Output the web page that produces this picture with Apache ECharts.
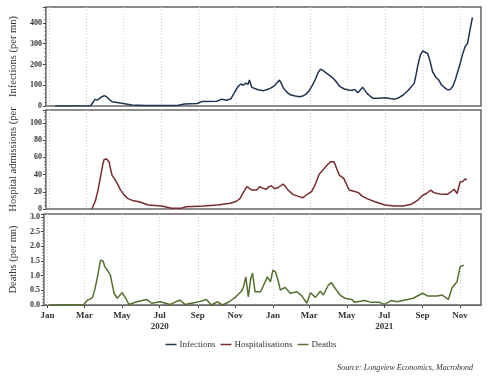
<!DOCTYPE html>
<html><head><meta charset="utf-8">
<script src="https://cdn.jsdelivr.net/npm/echarts@6/dist/echarts.min.js"></script>
<style>html,body{margin:0;padding:0;background:#fff}#c{width:502px;height:380px}</style>
</head><body><div id="c"></div><script>
// [date, value] per mn
const infections = [
 ['2020-01-10',0],['2020-03-08',1],['2020-03-12',18],['2020-03-15',32],['2020-03-19',29],['2020-03-25',42],['2020-03-30',50],['2020-04-03',45],['2020-04-08',30],['2020-04-12',21],
 ['2020-04-20',17],['2020-04-28',13],['2020-05-14',5],['2020-06-05',2],['2020-07-28',2],['2020-08-08',10],['2020-08-29',12],['2020-09-06',22],['2020-09-30',23],
 ['2020-10-08',33],['2020-10-16',28],['2020-10-23',35],['2020-10-31',77],['2020-11-04',95],['2020-11-08',106],['2020-11-12',100],['2020-11-16',110],['2020-11-20',105],['2020-11-22',125],['2020-11-26',90],
 ['2020-11-29',85],['2020-12-06',78],['2020-12-15',74],['2020-12-20',78],['2020-12-26',85],['2020-12-30',92],['2021-01-03',101],['2021-01-07',115],['2021-01-10',125],['2021-01-13',110],
 ['2021-01-16',90],['2021-01-19',77],['2021-01-24',62],['2021-01-29',53],['2021-02-05',48],['2021-02-12',45],['2021-02-17',48],['2021-02-22',56],['2021-02-28',75],['2021-03-05',101],
 ['2021-03-10',130],['2021-03-14',160],['2021-03-18',178],['2021-03-22',172],['2021-03-26',162],['2021-03-29',157],['2021-04-03',145],['2021-04-09',130],['2021-04-14',112],['2021-04-19',93],
 ['2021-04-26',82],['2021-05-03',77],['2021-05-08',75],['2021-05-13',80],['2021-05-18',64],['2021-05-26',90],['2021-06-02',61],['2021-06-07',48],['2021-06-12',37],['2021-06-22',37],
 ['2021-07-01',40],['2021-07-10',36],['2021-07-17',33],['2021-07-24',40],['2021-07-31',53],['2021-08-08',75],['2021-08-18',109],['2021-08-21',150],['2021-08-24',197],['2021-08-28',245],
 ['2021-09-01',266],['2021-09-04',268],['2021-09-09',253],['2021-09-13',215],['2021-09-17',165],['2021-09-22',140],['2021-09-27',125],['2021-10-02',100],['2021-10-08',85],['2021-10-12',78],
 ['2021-10-16',80],['2021-10-20',95],['2021-10-24',125],['2021-11-01',205],['2021-11-05',250],['2021-11-09',286],['2021-11-11',290],['2021-11-13',301],['2021-11-17',366],['2021-11-21',427]
];
const hospitalisations = [
 ['2020-03-10',0],['2020-03-16',10],['2020-03-20',22],['2020-03-24',37],['2020-03-28',52],['2020-03-30',57.6],['2020-04-03',58],['2020-04-07',55],['2020-04-10',45],['2020-04-12',39],
 ['2020-04-16',35],['2020-04-20',30],['2020-04-26',22],['2020-05-01',17],['2020-05-07',12.4],['2020-05-15',10],['2020-05-26',8.5],['2020-06-10',4.6],['2020-07-02',3.5],['2020-07-18',0.8],
 ['2020-08-03',1],['2020-08-11',2.7],['2020-09-09',3.5],['2020-10-01',4.6],['2020-10-22',6.6],['2020-11-01',9],['2020-11-07',12.4],['2020-11-12',19],['2020-11-18',26],['2020-11-26',22],
 ['2020-11-29',24],['2020-12-04',22],['2020-12-09',26],['2020-12-14',24],['2020-12-20',23],['2020-12-24',26],['2020-12-28',27],['2021-01-02',23.5],['2021-01-08',25],['2021-01-12',27],
 ['2021-01-16',29],['2021-01-20',26],['2021-01-24',22],['2021-02-01',17],['2021-02-09',15],['2021-02-17',13],['2021-02-25',17.4],['2021-03-03',20],['2021-03-08',26],['2021-03-12',33],
 ['2021-03-16',40.5],['2021-03-24',47],['2021-03-30',52],['2021-04-04',55],['2021-04-09',55],['2021-04-13',48],['2021-04-18',39],['2021-04-25',35.5],['2021-05-04',22],['2021-05-10',21],
 ['2021-05-19',19],['2021-05-25',15],['2021-06-01',12.4],['2021-06-15',8.5],['2021-07-01',4.6],['2021-07-17',3.5],['2021-07-31',3.5],['2021-08-13',5.4],['2021-08-24',10.4],['2021-09-01',16],
 ['2021-09-07',18],['2021-09-14',22],['2021-09-19',19],['2021-09-25',18],['2021-10-03',17],['2021-10-11',17],['2021-10-17',20],['2021-10-22',23],['2021-10-27',18],['2021-11-01',31.6],
 ['2021-11-05',32],['2021-11-09',34.8],['2021-11-12',34]
];
const deaths = [
 ['2020-01-04',0],['2020-02-29',0.02],['2020-03-06',0.17],['2020-03-10',0.2],['2020-03-14',0.26],['2020-03-18',0.55],['2020-03-22',0.96],['2020-03-27',1.53],['2020-03-31',1.5],['2020-04-03',1.3],
 ['2020-04-07',1.19],['2020-04-12',1.02],['2020-04-15',0.7],['2020-04-18',0.4],['2020-04-23',0.23],['2020-05-01',0.42],['2020-05-07',0.23],['2020-05-12',0.02],['2020-05-25',0.11],['2020-06-10',0.19],
 ['2020-06-18',0.06],['2020-07-02',0.11],['2020-07-18',0.02],['2020-08-03',0.17],['2020-08-11',0.02],['2020-08-30',0.09],['2020-09-15',0.19],['2020-09-23',0],['2020-10-03',0.11],['2020-10-11',0],
 ['2020-10-22',0.11],['2020-11-02',0.28],['2020-11-10',0.45],['2020-11-14',0.6],['2020-11-18',0.96],['2020-11-22',0.28],['2020-11-26',0.9],['2020-11-29',1.08],['2020-12-03',0.45],['2020-12-12',0.45],
 ['2020-12-17',0.68],['2020-12-23',0.96],['2020-12-28',0.79],['2021-01-01',1.19],['2021-01-05',1.13],['2021-01-10',0.79],['2021-01-13',0.51],['2021-01-21',0.6],['2021-01-29',0.4],['2021-02-09',0.45],
 ['2021-02-17',0.31],['2021-02-25',0.06],['2021-03-03',0.42],['2021-03-11',0.26],['2021-03-19',0.47],['2021-03-24',0.34],['2021-04-01',0.68],['2021-04-06',0.76],['2021-04-14',0.51],['2021-04-20',0.34],
 ['2021-04-28',0.23],['2021-05-09',0.19],['2021-05-14',0.09],['2021-05-30',0.15],['2021-06-10',0.09],['2021-06-23',0.09],['2021-07-01',0.02],['2021-07-12',0.15],['2021-07-22',0.11],['2021-08-04',0.17],
 ['2021-08-17',0.23],['2021-09-01',0.4],['2021-09-09',0.31],['2021-09-25',0.31],['2021-10-03',0.34],['2021-10-13',0.19],['2021-10-19',0.59],['2021-10-27',0.79],['2021-11-01',1.3],['2021-11-07',1.36]
];
const seriesNames = ['Infections','Hospitalisations','Deaths'];
const axisNames = ['Infections (per mn)','Hospital admissions (per','Deaths (per mn)'];
const monthNames = ['Jan','Feb','Mar','Apr','May','Jun','Jul','Aug','Sep','Oct','Nov','Dec'];
const sourceText = 'Source: Longview Economics, Macrobond';

function pad(n){return n<10?'0'+n:''+n;}
const days=[];
for(let t=Date.UTC(2019,11,26); t<=Date.UTC(2021,11,5); t+=86400000){
  const d=new Date(t);
  days.push(d.getUTCFullYear()+'-'+pad(d.getUTCMonth()+1)+'-'+pad(d.getUTCDate()));
}
function isTick(i,v){ const m=+v.slice(5,7); return v.slice(8)==='01' && m%2===1; }
const FONT='Liberation Serif';
const colors=['#1f3452','#7a2b2e','#56702f'];

function xAxisFor(idx){
  const bottom = idx===2;
  return {
    type:'category', gridIndex:idx, data:days, boundaryGap:false,
    axisLine:{show:bottom,lineStyle:{color:'#666'}},
    axisTick:{show:bottom,interval:isTick,length:3,lineStyle:{color:'#444'}},
    axisLabel:{show:bottom,interval:isTick,margin:5,fontFamily:FONT,fontSize:9,fontWeight:'bold',color:'#333',lineHeight:11,
      formatter:function(v){const m=+v.slice(5,7); let s=monthNames[m-1]; if(m===7) s+='\n'+v.slice(0,4); return s;}},
    splitLine:{show:true,interval:isTick,lineStyle:{color:'#d0d0d0',type:[1,2],width:1}}
  };
}
function yAxisFor(idx,max,interval,fmt){
  return {
    type:'value', gridIndex:idx, min:0, max:max, interval:interval,
    name:axisNames[idx], nameLocation:'middle', nameGap:22, nameRotate:90,
    nameTextStyle:{fontFamily:FONT,fontSize:10.5,color:'#333'},
    axisLine:{show:false},
    axisTick:{show:true,length:3,lineStyle:{color:'#444'}},
    minorTick:{show:true,splitNumber:5,length:1.5,lineStyle:{color:'#666'}},
    axisLabel:{margin:4,fontFamily:FONT,fontSize:8,fontWeight:'bold',color:'#333',showMaxLabel:false,formatter:fmt},
    splitLine:{show:false}
  };
}
const chart=echarts.init(document.getElementById('c'),null,{renderer:'canvas'});
chart.setOption({
  animation:false,
  backgroundColor:'#fff',
  color:colors,
  title:{text:sourceText,right:24,top:359,textStyle:{fontFamily:FONT,fontSize:8,fontStyle:'italic',fontWeight:'normal',color:'#333'}},
  legend:{data:seriesNames,left:'center',top:335,icon:'rect',itemWidth:11,itemHeight:1.5,itemGap:5,
    textStyle:{fontFamily:FONT,fontSize:9,color:'#333',padding:[0,0,0,-2]}},
  grid:[
    {left:39,right:21,top:7,height:99,show:true,borderColor:'#666',borderWidth:1.5,backgroundColor:'transparent'},
    {left:39,right:21,top:110,height:99,show:true,borderColor:'#666',borderWidth:1.5,backgroundColor:'transparent'},
    {left:39,right:21,top:214,height:91,show:true,borderColor:'#666',borderWidth:1.5,backgroundColor:'transparent'}
  ],
  xAxis:[xAxisFor(0),xAxisFor(1),xAxisFor(2)],
  yAxis:[
    yAxisFor(0,477,100,function(v){return v;}),
    yAxisFor(1,115,20,function(v){return v;}),
    yAxisFor(2,3.1,0.5,function(v){return v.toFixed(1);})
  ],
  series:[
    {name:seriesNames[0],type:'line',xAxisIndex:0,yAxisIndex:0,data:infections,showSymbol:false,lineStyle:{width:1.5,color:colors[0]},itemStyle:{color:colors[0]}},
    {name:seriesNames[1],type:'line',xAxisIndex:1,yAxisIndex:1,data:hospitalisations,showSymbol:false,lineStyle:{width:1.5,color:colors[1]},itemStyle:{color:colors[1]}},
    {name:seriesNames[2],type:'line',xAxisIndex:2,yAxisIndex:2,data:deaths,showSymbol:false,lineStyle:{width:1.5,color:colors[2]},itemStyle:{color:colors[2]}}
  ]
});
</script></body></html>
